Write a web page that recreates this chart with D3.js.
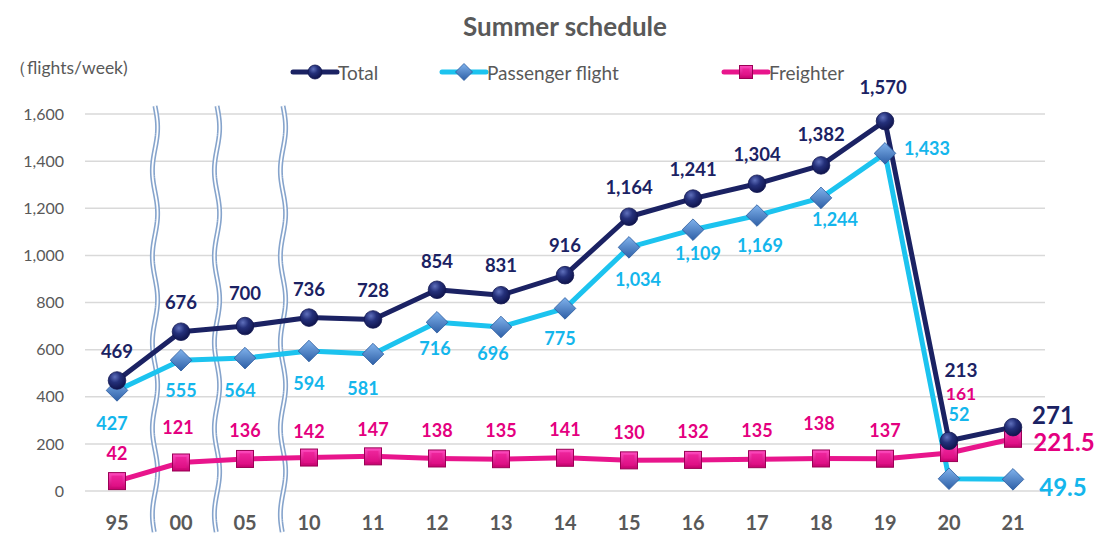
<!DOCTYPE html>
<html><head><meta charset="utf-8">
<script src="https://cdn.jsdelivr.net/npm/d3@7"></script>
<style>html,body{margin:0;padding:0;background:#fff;}svg{display:block;font-family:Lato,"Open Sans",sans-serif;}</style>
</head><body><svg id="c" width="1097" height="533"></svg>
<script>
const categories = ["95","00","05","10","11","12","13","14","15","16","17","18","19","20","21"];
const totalValues = [469,676,700,736,728,854,831,916,1164,1241,1304,1382,1570,213,271];
const passengerValues = [427,555,564,594,581,716,696,775,1034,1109,1169,1244,1433,52,49.5];
const freighterValues = [42,121,136,142,147,138,135,141,130,132,135,138,137,161,221.5];
const yTicks = [0,200,400,600,800,1000,1200,1400,1600];
const breakAfter = ["95","00","05"];

// label placement (styling): [dx, dy, fontSize]
const totalLabelPos = [[0,-29,18.5],[0,-30,18.5],[0,-33,18.5],[0,-29,18.5],[0,-29,18.5],[0,-29,18.5],[0,-30,18.5],[0,-30,18.5],[0,-30,18.5],[0,-30,18.5],[0,-30,18.5],[0,-31,18.5],[-2,-34,18.5],[12,-71,19],[40,-13,24]];
const passLabelPos = [[-5,33,18],[0,30,18],[-5,32,18],[0,32,18],[-10,34,18],[-2,26,18],[-8,26,18],[-5,30,18],[9,32,18],[5,23,18],[3,29,18],[14,21,18],[42,-5,18],[10,-65,18],[50,7,24]];
const freightLabelPos = [[0,-28,18],[-3,-35,18],[0,-29,18],[0,-27,18],[0,-27,18],[0,-28,18],[0,-29,18],[0,-29,18],[0,-28,18],[0,-29,18],[0,-29,18],[-2,-35,18],[0,-29,18],[12,-60,17.5],[51,3,24]];

const svg = d3.select("#c");
const x = d3.scaleBand().domain(categories).range([85,1045]);
const cx = c => x(c) + x.bandwidth()/2;
const y = d3.scaleLinear().domain([0,1600]).range([491,114]);

const defs = svg.append("defs");
const rg = defs.append("radialGradient").attr("id","gTotal").attr("cx","38%").attr("cy","30%").attr("r","70%");
rg.append("stop").attr("offset","0%").attr("stop-color","#5f70bc");
rg.append("stop").attr("offset","45%").attr("stop-color","#24307a");
rg.append("stop").attr("offset","100%").attr("stop-color","#10154e");
const dg = defs.append("linearGradient").attr("id","gPass").attr("x1","0").attr("y1","0").attr("x2","0").attr("y2","1");
dg.append("stop").attr("offset","0%").attr("stop-color","#80b2ec");
dg.append("stop").attr("offset","100%").attr("stop-color","#2e5fa6");
const sg = defs.append("linearGradient").attr("id","gFr").attr("x1","0").attr("y1","0").attr("x2","0").attr("y2","1");
sg.append("stop").attr("offset","0%").attr("stop-color","#ff4cc0");
sg.append("stop").attr("offset","100%").attr("stop-color","#c8006e");

// title
svg.append("text").attr("x",565).attr("y",36).attr("text-anchor","middle").attr("font-size",26).attr("font-weight","bold").attr("fill","#595959").text("Summer schedule");
svg.append("text").attr("x",9).attr("y",67).attr("dominant-baseline","central").attr("font-size",17.5).attr("fill","#595959").text("（flights/week)");

// grid
svg.append("g").selectAll("line").data(yTicks).join("line")
  .attr("x1",85).attr("x2",1045).attr("y1",d=>y(d)).attr("y2",d=>y(d))
  .attr("stroke","#d9d9d9").attr("stroke-width",1.5);

// y axis
const yAxis = d3.axisLeft(y).tickValues(yTicks).tickSize(0).tickPadding(0).tickFormat(d3.format(","));
const ya = svg.append("g").attr("transform","translate(64,0)").call(yAxis);
ya.select(".domain").remove();
ya.selectAll("text").attr("font-size",16).attr("fill","#595959").attr("font-family","Lato,sans-serif");

// x axis
const xAxis = d3.axisBottom(x).tickSize(0).tickPadding(0);
const xa = svg.append("g").attr("transform","translate(0,491)").call(xAxis);
xa.select(".domain").remove();
xa.selectAll("text").attr("dy",0).attr("y",38.5).attr("font-size",20).attr("font-weight","bold").attr("fill","#595959").attr("font-family","Lato,sans-serif");

// wavy break lines
const breakOffsets = [38,36,38];
function wavePath(x0){
  const pts=[]; for(let yy=106; yy<=533; yy+=2){ pts.push([x0+2.6*Math.sin((yy-106)/86*2*Math.PI), yy]); }
  return d3.line()(pts);
}
const brk = svg.append("g");
breakAfter.forEach((c,i)=>{
  const xp = cx(c)+breakOffsets[i];
  brk.append("path").attr("d",wavePath(xp)).attr("fill","none").attr("stroke","#86a4cc").attr("stroke-width",5);
  brk.append("path").attr("d",wavePath(xp)).attr("fill","none").attr("stroke","#ffffff").attr("stroke-width",1.8);
});

const line = d3.line().x((d,i)=>cx(categories[i])).y(d=>y(d));
function series(vals,color){
  svg.append("path").datum(vals).attr("d",line).attr("fill","none").attr("stroke",color).attr("stroke-width",5).attr("stroke-linejoin","round");
}
series(freighterValues,"#e8158c");
series(passengerValues,"#1cc3ef");
series(totalValues,"#1b2263");

// markers
const circle = (g,xx,yy,r=8.8)=>g.append("circle").attr("cx",xx).attr("cy",yy).attr("r",r).attr("fill","url(#gTotal)").attr("stroke","#121650").attr("stroke-width",0.8);
const diamond = (g,xx,yy,s=10.8)=>g.append("path").attr("d",`M${xx},${yy-s}L${xx+s},${yy}L${xx},${yy+s}L${xx-s},${yy}Z`).attr("fill","url(#gPass)").attr("stroke","#2a5a9e").attr("stroke-width",0.8);
const square = (g,xx,yy,s=8.5)=>{
  g.append("rect").attr("x",xx-s).attr("y",yy-s).attr("width",2*s).attr("height",2*s).attr("fill","url(#gFr)").attr("stroke","#9a0055").attr("stroke-width",1);
  g.append("rect").attr("x",xx-s+3).attr("y",yy-s+3).attr("width",2*s-6).attr("height",2*s-6).attr("fill","#e8108a").attr("opacity",0.55);
};
const mk = svg.append("g");
freighterValues.forEach((v,i)=>square(mk,cx(categories[i]),y(v)));
passengerValues.forEach((v,i)=>diamond(mk,cx(categories[i]),y(v)));
totalValues.forEach((v,i)=>circle(mk,cx(categories[i]),y(v)));

// labels
function labels(vals,pos,color){
  svg.append("g").selectAll("text").data(vals).join("text")
    .attr("x",(d,i)=>cx(categories[i])+pos[i][0])
    .attr("y",(d,i)=>y(d)+pos[i][1])
    .attr("text-anchor","middle").attr("dominant-baseline","central")
    .attr("font-size",(d,i)=>pos[i][2]).attr("font-weight","bold").attr("fill",color)
    .text(d=>d3.format(",")(d));
}
labels(totalValues,totalLabelPos,"#1b2263");
labels(passengerValues,passLabelPos,"#14b6ec");
labels(freighterValues,freightLabelPos,"#e4007f");

// legend
const legend = [
  {name:"Total",x:293,color:"#1b2263",m:"c"},
  {name:"Passenger flight",x:442,color:"#1cc3ef",m:"d"},
  {name:"Freighter",x:724,color:"#e8158c",m:"s"}
];
const lg = svg.append("g");
legend.forEach(l=>{
  const ly=72, x2=l.x+44;
  lg.append("line").attr("x1",l.x).attr("x2",x2).attr("y1",ly).attr("y2",ly).attr("stroke",l.color).attr("stroke-width",5).attr("stroke-linecap","round");
  const mx=(l.x+x2)/2;
  if(l.m==="c") circle(lg,mx,ly,7);
  if(l.m==="d") diamond(lg,mx,ly,8.5);
  if(l.m==="s") square(lg,mx,ly,6.5);
  lg.append("text").attr("x",x2+1).attr("y",ly).attr("dominant-baseline","central").attr("font-size",19).attr("fill","#595959").text(l.name);
});
</script></body></html>
